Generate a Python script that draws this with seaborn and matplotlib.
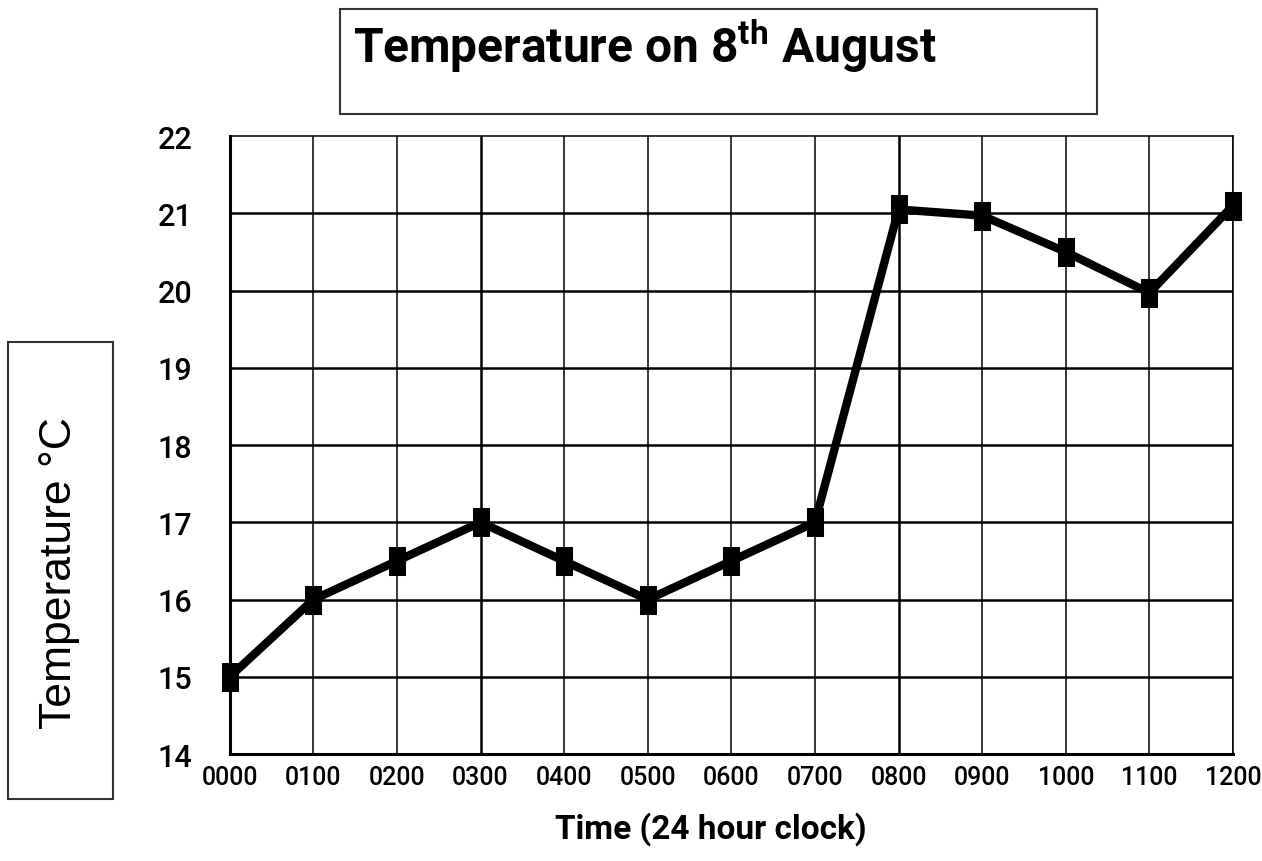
import matplotlib
matplotlib.use("Agg")
import matplotlib.pyplot as plt
from matplotlib.patches import Rectangle
import seaborn as sns
import pandas as pd

times = ["0000", "0100", "0200", "0300", "0400", "0500", "0600",
         "0700", "0800", "0900", "1000", "1100", "1200"]
temps = [15.0, 16.0, 16.5, 17.0, 16.5, 16.0, 16.5, 17.0, 21.05, 20.97, 20.5, 19.97, 21.1]
y_ticks = [14, 15, 16, 17, 18, 19, 20, 21, 22]

df = pd.DataFrame({"hour": range(len(times)), "temp": temps})

sns.set_style("white", rc={"text.color": "black", "xtick.color": "black",
                           "ytick.color": "black", "axes.labelcolor": "black"})
plt.rcParams["font.family"] = ["Roboto", "DejaVu Sans"]
plt.rcParams["mathtext.fontset"] = "custom"
plt.rcParams["mathtext.rm"] = "Roboto:bold"

fig = plt.figure(figsize=(12.62, 8.62), dpi=100)
ax = fig.add_axes([0.182, 0.124, 0.795, 0.717])

# tall rectangular marker like the reference
rect_marker = [(-0.6, -1), (0.6, -1), (0.6, 1), (-0.6, 1), (-0.6, -1)]
sns.lineplot(data=df, x="hour", y="temp", ax=ax, color="black", lw=6,
             marker=rect_marker, markersize=20, markeredgecolor="black", zorder=5,
             clip_on=False)

ax.set_xlim(0, len(times) - 1)
ax.set_ylim(14, 22)
ax.set_xticks(range(len(times)))
ax.set_xticklabels(times, fontsize=18, fontweight="medium")
ax.set_yticks(y_ticks)
ax.set_yticklabels([str(v) for v in y_ticks], fontsize=22, fontweight="medium")
ax.tick_params(length=0, pad=8)
ax.tick_params(axis="y", pad=27)

for y in y_ticks[1:-1]:
    ax.axhline(y, color="black", lw=1.8, zorder=1)
for i in range(1, len(times)):
    w = 1.8 if times[i] in ("0300", "0800") else 1.1
    ax.axvline(i, color="black", lw=w, zorder=1)

for side in ["left", "bottom"]:
    ax.spines[side].set_linewidth(2.2)
    ax.spines[side].set_color("black")
for side in ["top", "right"]:
    ax.spines[side].set_linewidth(1.1)
    ax.spines[side].set_color("black")

ax.set_xlabel("Time (24 hour clock)", fontsize=24, fontweight="bold")
ax.xaxis.set_label_coords(0.48, -0.093)
ax.set_ylabel("")

# title box
fig.add_artist(Rectangle((340 / 1262, 1 - 115 / 862), 757 / 1262, 105 / 862,
                         transform=fig.transFigure, fill=False, edgecolor="#333333", lw=1.5))
fig.text(353 / 1262, 1 - 63 / 862, r"Temperature on 8$^{\mathrm{th}}$ August",
         fontweight="bold", fontsize=34.5, ha="left", va="baseline")

# y label box
fig.add_artist(Rectangle((8 / 1262, 1 - 800 / 862), 105 / 1262, 457 / 862,
                         transform=fig.transFigure, fill=False, edgecolor="#333333", lw=1.5))
fig.text(60 / 1262, 1 - 573 / 862, "Temperature °C", family="Liberation Sans",
         fontsize=32, rotation=90, ha="center", va="center")

fig.savefig("out.png", dpi=100)
